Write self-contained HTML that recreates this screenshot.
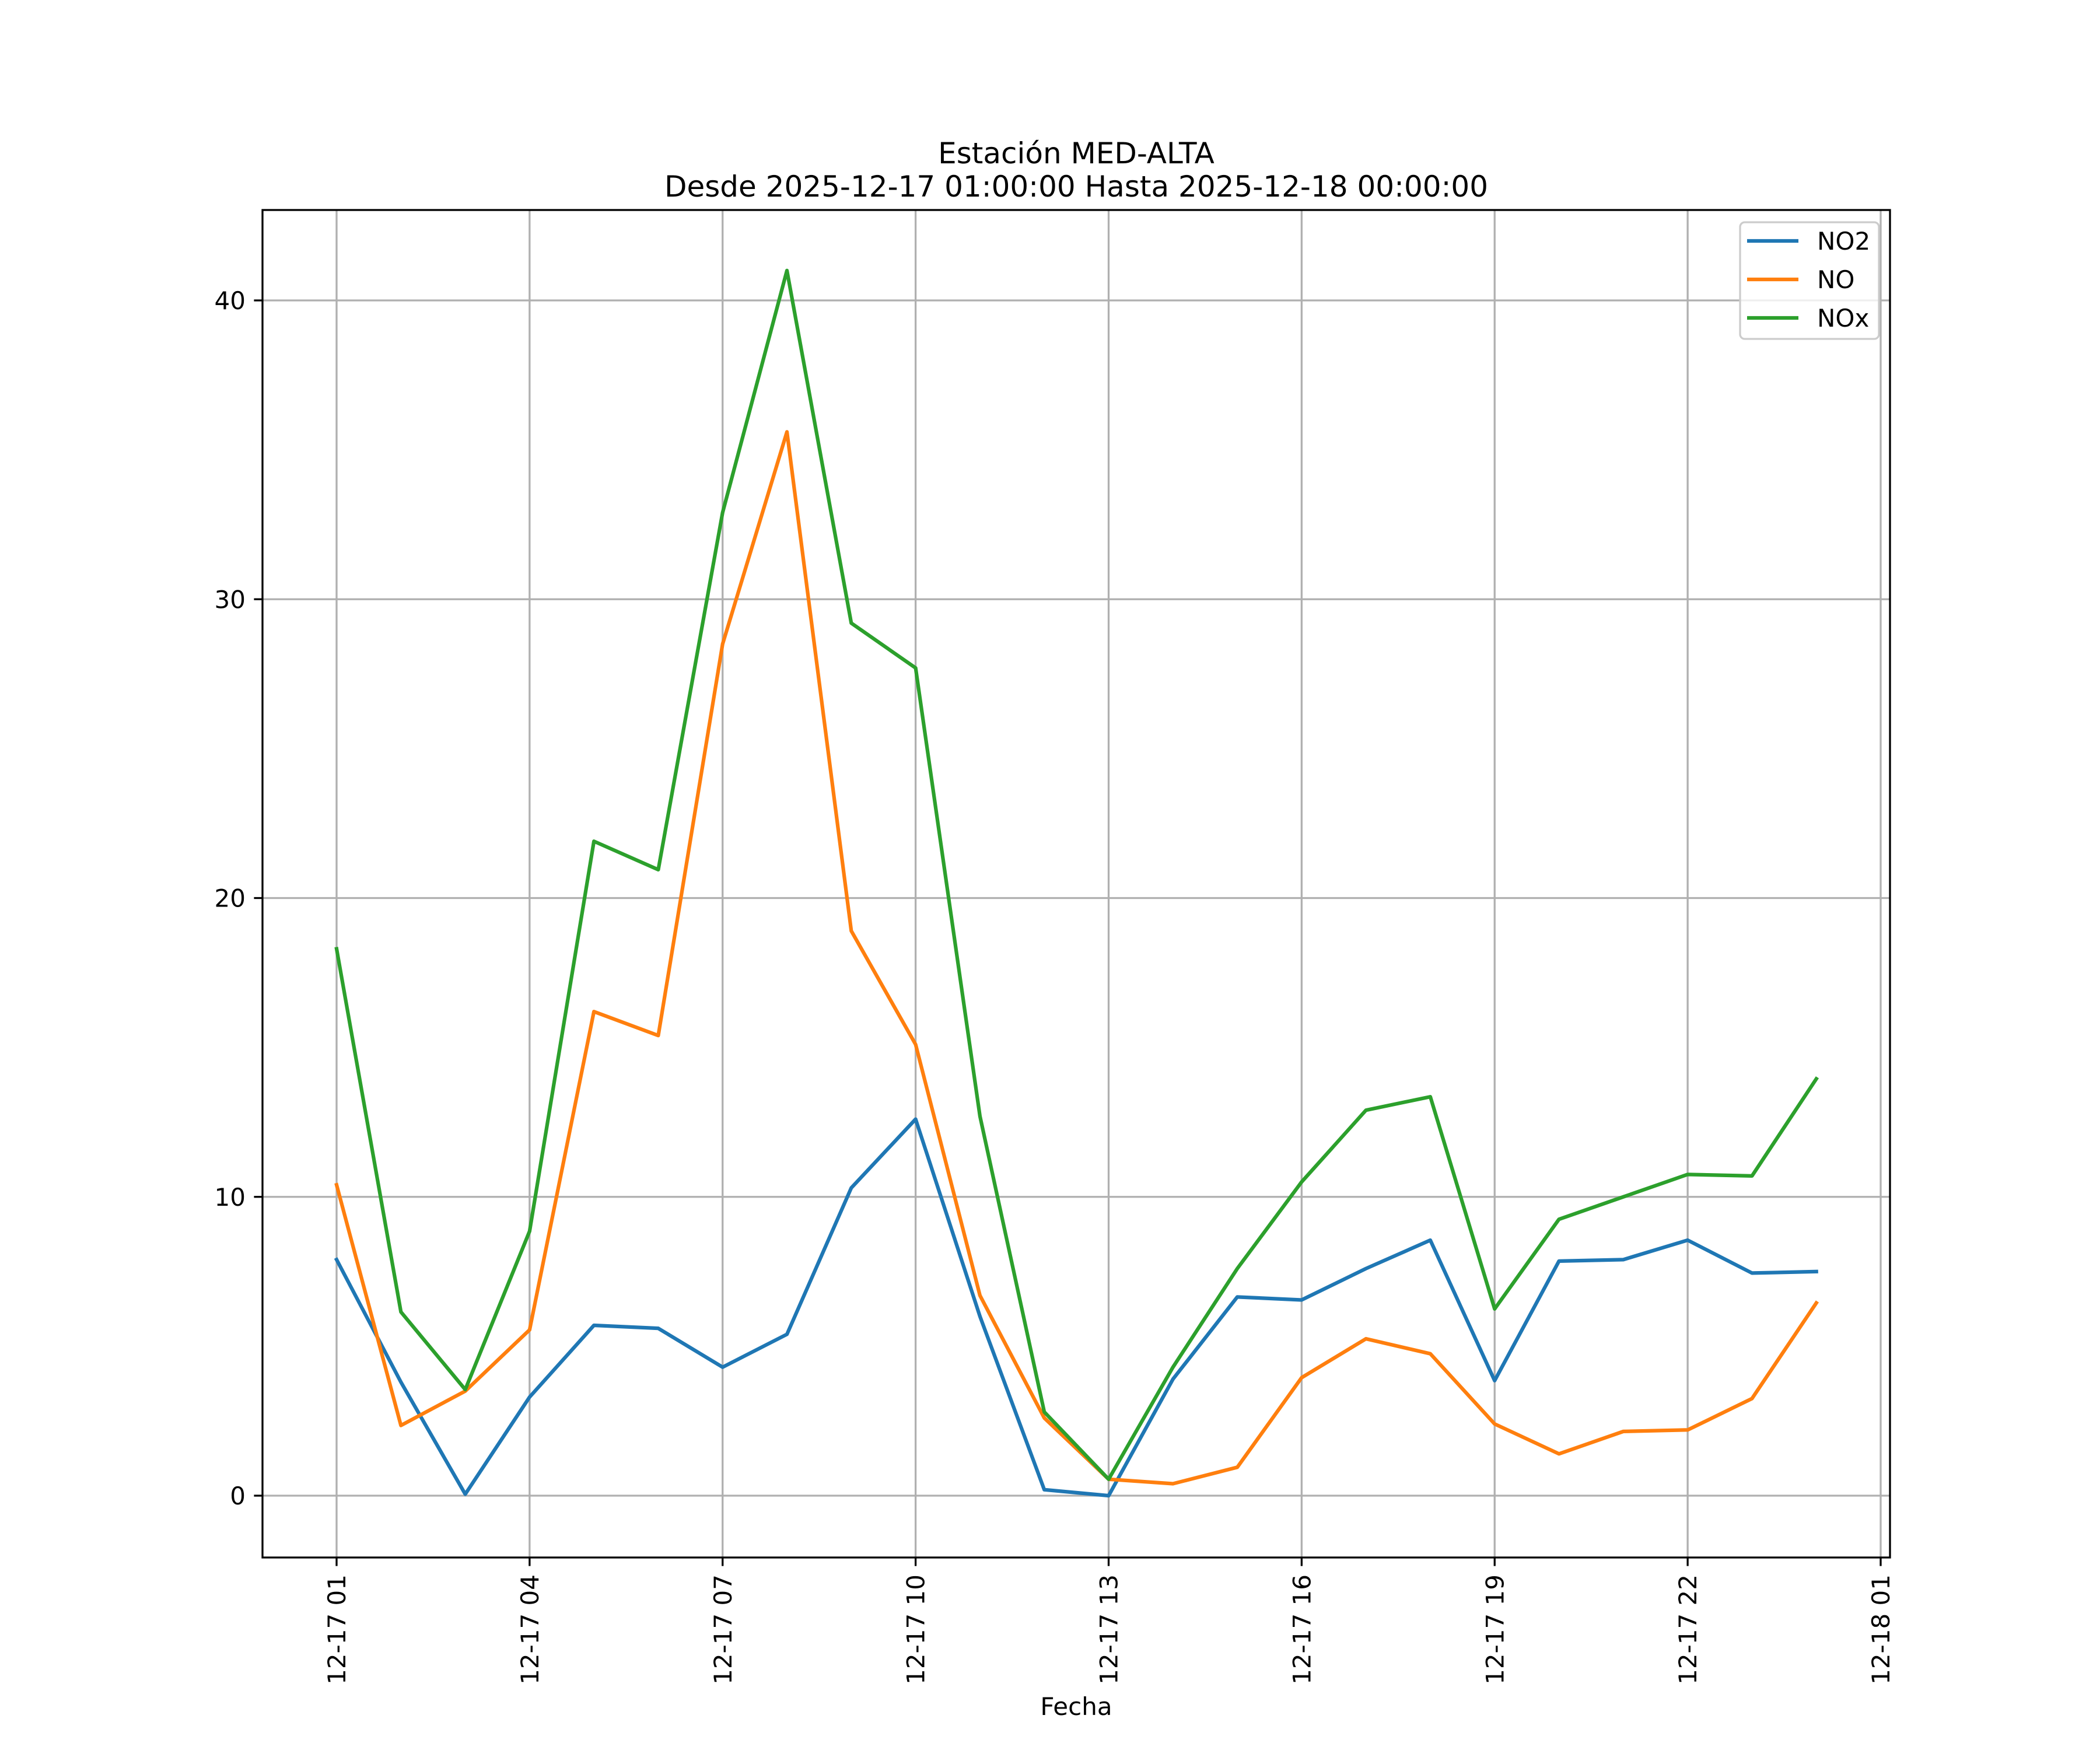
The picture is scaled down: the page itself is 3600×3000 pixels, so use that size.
<!DOCTYPE html>
<html><head><meta charset="utf-8"><style>
body{margin:0;background:#fff}
svg{display:block;font-family:"DejaVu Sans","Liberation Sans",sans-serif}
</style></head><body>
<svg id="chart" width="3600" height="3000" viewBox="0 0 3600 3000">
<rect width="3600" height="3000" fill="#fff"/>
<g id="grid"></g>
<g id="series"></g>
<g id="axes"></g>
<text x="1845" y="280" text-anchor="middle" font-size="50">Estación MED-ALTA</text>
<text x="1845" y="337" text-anchor="middle" font-size="50">Desde 2025-12-17 01:00:00 Hasta 2025-12-18 00:00:00</text>
<text x="1845" y="2940" text-anchor="middle" font-size="42">Fecha</text>
<g id="legend"></g>
</svg>
<script>
const hours=[1,2,3,4,5,6,7,8,9,10,11,12,13,14,15,16,17,18,19,20,21,22,23,24];
const no2=[7.9,3.8,0.05,3.3,5.7,5.6,4.3,5.4,10.3,12.6,6.0,0.2,0.0,3.9,6.65,6.55,7.6,8.55,3.85,7.85,7.9,8.55,7.45,7.5];
const no=[10.4,2.35,3.5,5.55,16.2,15.4,28.5,35.6,18.9,15.1,6.7,2.6,0.55,0.4,0.95,3.95,5.25,4.75,2.4,1.4,2.15,2.2,3.25,6.45];
const nox=[18.3,6.15,3.55,8.85,21.9,20.95,32.9,41.0,29.2,27.7,12.7,2.8,0.55,4.3,7.6,10.5,12.9,13.35,6.25,9.25,10.0,10.75,10.7,13.95];
const xTicks=[1,4,7,10,13,16,19,22,25];
const xTickLabels=["12-17 01","12-17 04","12-17 07","12-17 10","12-17 13","12-17 16","12-17 19","12-17 22","12-18 01"];
const yTicks=[0,10,20,30,40];
const seriesNames=["NO2","NO","NOx"];
const seriesColors=["#1f77b4","#ff7f0e","#2ca02c"];

const L=450,R=3240,T=360,B=2670;
const X=h=>577+(h-1)*(3224-577)/24;
const Y=v=>2564-v*(2564-515)/40;
const NS="http://www.w3.org/2000/svg";
function mk(tag,attrs,parent){const e=document.createElementNS(NS,tag);for(const k in attrs)e.setAttribute(k,attrs[k]);parent.appendChild(e);return e;}
const grid=document.getElementById('grid'),axes=document.getElementById('axes'),ser=document.getElementById('series'),leg=document.getElementById('legend');

xTicks.forEach((h,i)=>{
  const g=mk('line',{x1:X(h),x2:X(h),y1:T,y2:B,stroke:'#b0b0b0','stroke-width':3.3},grid);
  
  
  const t=mk('line',{x1:X(h),x2:X(h),y1:B,y2:B+14.6,stroke:'#000','stroke-width':3.3},axes);
  
  
  const tx=mk('text',{x:0,y:0,'font-size':42,'text-anchor':'end',transform:`translate(${X(h)+15},${B+29}) rotate(-90)`},axes);
  tx.textContent=xTickLabels[i];
  
  
});
yTicks.forEach(v=>{
  const g=mk('line',{x1:L,x2:R,y1:Y(v),y2:Y(v),stroke:'#b0b0b0','stroke-width':3.3},grid);
  
  
  const t=mk('line',{x1:L-14.6,x2:L,y1:Y(v),y2:Y(v),stroke:'#000','stroke-width':3.3},axes);
  
  
  const tx=mk('text',{x:L-29,y:Y(v)+15,'font-size':42,'text-anchor':'end'},axes);
  tx.textContent=v;
  
  
});
[no2,no,nox].forEach((arr,si)=>{
  const p=mk('polyline',{points:arr.map((v,i)=>X(hours[i])+','+Y(v)).join(' '),fill:'none',stroke:seriesColors[si],'stroke-width':6.25,'stroke-linejoin':'round','stroke-linecap':'square'},ser);
  
  
});
const frame=mk('rect',{x:L,y:T,width:R-L,height:B-T,fill:'none',stroke:'#000','stroke-width':3.3},axes);



const box=mk('rect',{x:2983,y:381,width:238,height:200,rx:8,fill:'#fff','fill-opacity':0.8,stroke:'#cccccc','stroke-width':3.3},leg);


seriesNames.forEach((n,i)=>{
  const y=413+i*66;
  const l=mk('line',{x1:2995,x2:3083,y1:y,y2:y,stroke:seriesColors[i],'stroke-width':6.25},leg);
  
  
  const t=mk('text',{x:3115,y:y+15,'font-size':42},leg);
  t.textContent=n;
  
  
});
</script>
</body></html>
